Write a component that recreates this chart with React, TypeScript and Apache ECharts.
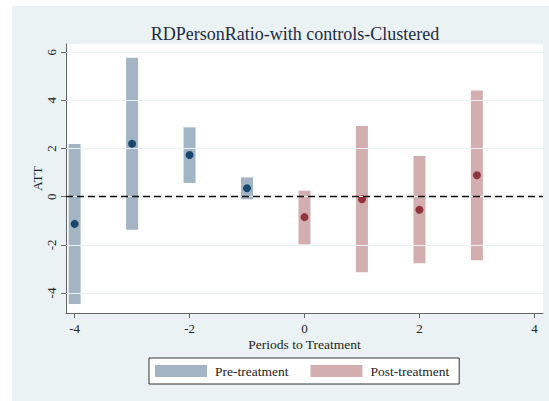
import React, { useEffect, useRef } from "react";
import * as echarts from "echarts";

const title = "RDPersonRatio-with controls-Clustered";
const xTicks = [-4, -2, 0, 2, 4];
const yTicks = [-4, -2, 0, 2, 4, 6];

const preX = [-4, -3, -2, -1];
const preEst = [-1.13, 2.2, 1.73, 0.35];
const preLo = [-4.46, -1.37, 0.57, -0.11];
const preHi = [2.19, 5.77, 2.88, 0.8];

const postX = [0, 1, 2, 3];
const postEst = [-0.85, -0.11, -0.54, 0.89];
const postLo = [-1.98, -3.14, -2.76, -2.64];
const postHi = [0.25, 2.93, 1.69, 4.41];

const FONT = "'Liberation Serif', 'Times New Roman', serif";
const PRE_FILL = "rgba(26,71,111,0.4)";
const POST_FILL = "rgba(144,53,59,0.4)";
const NAVY = "#1a476f";
const MAROON = "#90353b";

function rangeRender(fill: string) {
  return (params: any, api: any) => {
    const x = api.value(0);
    const p1 = api.coord([x, api.value(2)]);
    const p2 = api.coord([x, api.value(1)]);
    const w = 12;
    return {
      type: "rect",
      shape: { x: p1[0] - w / 2, y: p1[1], width: w, height: p2[1] - p1[1] },
      style: { fill },
    };
  };
}

export default function App() {
  const ref = useRef<HTMLDivElement>(null);
  useEffect(() => {
    if (!ref.current) return;
    const chart = echarts.init(ref.current, null, { renderer: "svg" });
    const preData = preX.map((x, i) => [x, preLo[i], preHi[i]]);
    const postData = postX.map((x, i) => [x, postLo[i], postHi[i]]);
    chart.setOption({
      animation: false,
      textStyle: { fontFamily: FONT },
      title: {
        text: title,
        left: 290,
        textAlign: "center",
        top: 20,
        textStyle: { fontFamily: FONT, fontSize: 18, fontWeight: "normal", color: "#1e2b45" },
      },
      grid: {
        left: 66,
        top: 44,
        width: 477,
        height: 269,
        show: true,
        backgroundColor: "#ffffff",
        borderWidth: 0,
      },
      legend: {
        left: 149,
        top: 358,
        padding: [6, 10, 6, 6],
        itemGap: 22,
        itemWidth: 52,
        itemHeight: 12,
        borderColor: "#333333",
        borderWidth: 1,
        borderRadius: 0,
        backgroundColor: "#ffffff",
        textStyle: { fontFamily: FONT, fontSize: 13.5, color: "#222222", padding: [0, 0, 0, 3] },
        data: [
          { name: "Pre-treatment", icon: "rect", itemStyle: { color: PRE_FILL } },
          { name: "Post-treatment", icon: "rect", itemStyle: { color: POST_FILL } },
        ],
      },
      xAxis: {
        type: "value",
        min: -4.15,
        max: 4.15,
        name: "Periods to Treatment",
        nameLocation: "middle",
        nameGap: 24,
        nameMoveOverlap: false,
        nameTextStyle: { fontFamily: FONT, fontSize: 13.5, color: "#222222" },
        axisLine: { show: true, onZero: false, lineStyle: { color: "#666666", width: 1 } },
        axisTick: { show: true, length: 5, lineStyle: { color: "#666666" }, customValues: xTicks },
        axisLabel: { fontFamily: FONT, fontSize: 13, color: "#222222", margin: 9, customValues: xTicks },
        splitLine: { show: false },
      },
      yAxis: {
        type: "value",
        min: -4.83,
        max: 6.34,
        name: "ATT",
        nameLocation: "middle",
        nameGap: 22,
        nameMoveOverlap: false,
        nameRotate: 90,
        nameTextStyle: { fontFamily: FONT, fontSize: 13.5, color: "#222222" },
        axisLine: { show: true, onZero: false, lineStyle: { color: "#666666", width: 1 } },
        axisTick: { show: true, length: 5, lineStyle: { color: "#666666" }, customValues: yTicks },
        axisLabel: { fontFamily: FONT, fontSize: 13, color: "#222222", margin: 8, rotate: 90, customValues: yTicks },
        splitLine: { show: false },
      },
      series: [
        {
          type: "scatter",
          name: "grid",
          data: [],
          z: 1,
          silent: true,
          markLine: {
            silent: true,
            symbol: "none",
            label: { show: false },
            lineStyle: { color: "#eaf2f3", width: 1, type: "solid" },
            data: yTicks.map((v) => ({ yAxis: v })),
          },
        },
        {
          type: "custom",
          name: "Pre-treatment",
          z: 2,
          itemStyle: { color: PRE_FILL },
          renderItem: rangeRender(PRE_FILL),
          encode: { x: 0, y: [1, 2] },
          data: preData,
        },
        {
          type: "custom",
          name: "Post-treatment",
          z: 2,
          itemStyle: { color: POST_FILL },
          renderItem: rangeRender(POST_FILL),
          encode: { x: 0, y: [1, 2] },
          data: postData,
        },
        {
          type: "scatter",
          name: "zero",
          data: [],
          z: 3,
          silent: true,
          markLine: {
            silent: true,
            symbol: "none",
            label: { show: false },
            lineStyle: { color: "#111111", width: 1.3, type: [7, 4] },
            data: [{ yAxis: 0 }],
          },
        },
        {
          type: "scatter",
          name: "preEst",
          z: 4,
          symbolSize: 8,
          itemStyle: { color: NAVY, opacity: 1 },
          data: preX.map((x, i) => [x, preEst[i]]),
        },
        {
          type: "scatter",
          name: "postEst",
          z: 4,
          symbolSize: 8,
          itemStyle: { color: MAROON, opacity: 1 },
          data: postX.map((x, i) => [x, postEst[i]]),
        },
      ],
    });
    return () => chart.dispose();
  }, []);
  return (
    <div style={{ position: "fixed", left: 0, top: 0, width: 549, height: 401, background: "#ffffff" }}>
      <div style={{ position: "absolute", left: 12, top: 6, width: 537, height: 395, background: "#eaf2f3" }} />
      <div ref={ref} style={{ position: "absolute", left: 0, top: 0, width: 549, height: 401 }} />
    </div>
  );
}
